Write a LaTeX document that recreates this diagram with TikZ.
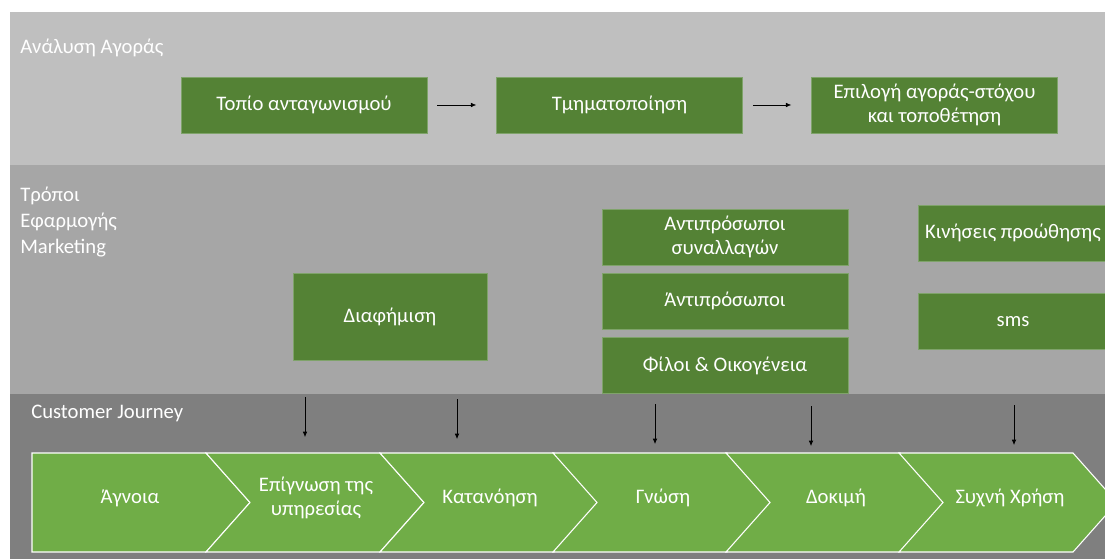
\documentclass[tikz,border=0pt]{standalone}
\usepackage{fontspec}
\setmainfont{Carlito}
\usetikzlibrary{arrows.meta}
\definecolor{bandtop}{HTML}{BFBFBF}
\definecolor{bandmid}{HTML}{A6A6A6}
\definecolor{bandlow}{HTML}{7F7F7F}
\definecolor{boxgreen}{HTML}{548235}
\definecolor{boxedge}{HTML}{7FA36A}
\definecolor{chevgreen}{HTML}{70AD47}
\begin{document}
\begin{tikzpicture}[x=0.75pt,y=-0.75pt,
    box/.style={fill=boxgreen,draw=boxedge,line width=0.4pt,text=white,align=center,inner sep=0pt,
                minimum width=184.5pt,minimum height=42pt,font=\fontsize{15.5}{18.5}\selectfont},
    chev/.style={fill=chevgreen,draw=white,line width=0.8pt},
    step text/.style={text=white,align=center,font=\fontsize{15.5}{18}\selectfont},
    band label/.style={text=white,anchor=west,align=left,inner sep=0pt,font=\fontsize{15.5}{19.5}\selectfont},
    arr/.style={-{Latex[length=4pt,width=3.5pt]},line width=0.5pt,black}]
                      \useasboundingbox (0,0) rectangle (1105,559);
                      \clip (0,0) rectangle (1105,559);
                      \fill[white] (0,0) rectangle (1105,559);
                      \fill[bandtop] (10,12) rectangle (1105,165);
                      \fill[bandmid] (10,165) rectangle (1105,394);
                      \fill[bandlow] (10,394) rectangle (1105,559);

                      \node[band label] (ana) at (20,47.5) {Ανάλυση Αγοράς};
                      \node[band label] (tro) at (20,222) {Τρόποι\\Εφαρμογής\\Marketing};
                      \node[band label] (cj) at (31,413) {Customer Journey};

                      \node[box] (topio) at (304,105) {Τοπίο ανταγωνισμού};
                      \node[box] (tmima) at (619.5,105) {Τμηματοποίηση};
                      \node[box] (epil) at (934.5,105) {Επιλογή αγοράς-στόχου\\και τοποθέτηση};
                      \draw[arr,shorten <=7.5pt,shorten >=15pt] (topio) -- (tmima);
                      \draw[arr,shorten <=7.5pt,shorten >=15pt] (tmima) -- (epil);

                      \node[box,minimum width=145.5pt,minimum height=65.25pt] (diaf) at (390,316.5) {Διαφήμιση};
                      \node[box] (antsyn) at (725,237) {Αντιπρόσωποι\\συναλλαγών};
                      \node[box] (ant) at (725,301) {Άντιπρόσωποι};
                      \node[box] (filoi) at (725,365.5) {Φίλοι \& Οικογένεια};
                      \node[box,minimum width=142.5pt] (kin) at (1013,233) {Κινήσεις προώθησης};
                      \node[box,minimum width=142.5pt] (sms) at (1013,321.5) {sms};

                      \draw[chev] (32,453) -- (206,453) -- (250,502.5) -- (206,552) -- (32,552) -- cycle;
                      \foreach \l in {206,380,553,726,899}
                        \draw[chev] (\l,453) -- ++(174,0) -- ++(44,49.5) -- ++(-44,49.5) -- ++(-174,0) -- ++(44,-49.5) -- cycle;

                      \node[step text] (agn) at (130,498) {Άγνοια};
                      \node[step text] (epig) at (316,498) {Επίγνωση της\\υπηρεσίας};
                      \node[step text] (kat) at (490,498) {Κατανόηση};
                      \node[step text] (gno) at (663,498) {Γνώση};
                      \node[step text] (dok) at (836,498) {Δοκιμή};
                      \node[step text] (sxr) at (1010,498) {Συχνή Χρήση};

                      \coordinate (a1) at (305,397);  \coordinate (b1) at (305,437);
                      \coordinate (a2) at (457,399);  \coordinate (b2) at (457,439);
                      \coordinate (a3) at (655,404);  \coordinate (b3) at (655,444);
                      \coordinate (a4) at (811,406);  \coordinate (b4) at (811,446);
                      \coordinate (a5) at (1014,405); \coordinate (b5) at (1014,445);
                      \draw[arr] (a1) -- (b1);
                      \draw[arr] (a2) -- (b2);
                      \draw[arr] (a3) -- (b3);
                      \draw[arr] (a4) -- (b4);
                      \draw[arr] (a5) -- (b5);
                    \end{tikzpicture}
\end{document}
